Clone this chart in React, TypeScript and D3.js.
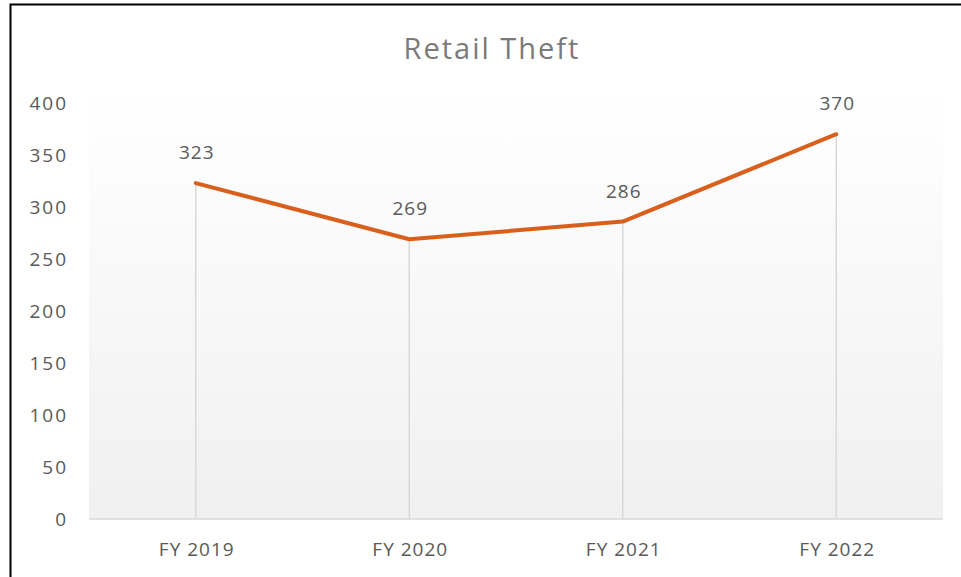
import React, { useRef, useEffect } from "react";
import * as d3 from "d3";

const years = ["FY 2019", "FY 2020", "FY 2021", "FY 2022"];
const thefts = [323, 269, 286, 370];
const yTicks = [0, 50, 100, 150, 200, 250, 300, 350, 400];

export default function App() {
  const ref = useRef<SVGSVGElement>(null);

  useEffect(() => {
    const width = 961;
    const height = 577;
    const svg = d3.select(ref.current);
    svg.selectAll("*").remove();
    svg.attr("width", width).attr("height", height);

    const font = "'Open Sans', 'Noto Sans', sans-serif";
    const textColor = "#595959";

    const left = 89;
    const right = 943;
    const top = 103;
    const bottom = 519;

    const x = d3.scaleBand<string>().domain(years).range([left, right]);
    const y = d3.scaleLinear().domain([0, 400]).range([bottom, top]);
    const cx = (d: string) => x(d)! + x.bandwidth() / 2;

    svg.append("rect").attr("width", width).attr("height", height).attr("fill", "#fff");

    // frame, only top and left edges are in view
    svg
      .append("path")
      .attr("d", `M10.5,${height} V4.5 H${width}`)
      .attr("fill", "none")
      .attr("stroke", "#000")
      .attr("stroke-width", 2);

    // plot area gradient
    const defs = svg.append("defs");
    const grad = defs
      .append("linearGradient")
      .attr("id", "plotGrad")
      .attr("x1", 0)
      .attr("y1", 0)
      .attr("x2", 0)
      .attr("y2", 1);
    grad.append("stop").attr("offset", "0%").attr("stop-color", "#ffffff");
    grad.append("stop").attr("offset", "100%").attr("stop-color", "#f0f0f0");
    svg
      .append("rect")
      .attr("x", left)
      .attr("y", top - 10)
      .attr("width", right - left)
      .attr("height", bottom - top + 10)
      .attr("fill", "url(#plotGrad)");

    // title
    svg
      .append("text")
      .attr("x", 492)
      .attr("y", 59)
      .attr("text-anchor", "middle")
      .attr("font-family", font)
      .attr("font-size", 29)
      .attr("letter-spacing", 2)
      .attr("fill", "#7a7a7a")
      .text("Retail Theft");

    const label = (sel: any) =>
      sel
        .attr("font-family", font)
        .attr("font-size", 19)
        .attr("letter-spacing", 1)
        .attr("fill", textColor);

    // y axis labels
    svg
      .append("g")
      .selectAll("text")
      .data(yTicks)
      .join("text")
      .attr("x", 68)
      .attr("y", (d) => y(d))
      .attr("dy", "0.35em")
      .attr("text-anchor", "end")
      .call(label)
      .attr("letter-spacing", 2)
      .text((d) => d);

    // x axis labels
    svg
      .append("g")
      .selectAll("text")
      .data(years)
      .join("text")
      .attr("x", (d) => cx(d) + 1)
      .attr("y", 556)
      .attr("text-anchor", "middle")
      .call(label)
      .text((d) => d);

    const pts = years.map((yr, i) => ({ yr, v: thefts[i] }));

    // drop lines
    svg
      .append("g")
      .selectAll("line")
      .data(pts)
      .join("line")
      .attr("x1", (d) => cx(d.yr))
      .attr("x2", (d) => cx(d.yr))
      .attr("y1", (d) => y(d.v))
      .attr("y2", bottom)
      .attr("stroke", "#d9d9d9")
      .attr("stroke-width", 1.5);

    // x axis line
    svg
      .append("line")
      .attr("x1", left)
      .attr("x2", right)
      .attr("y1", bottom)
      .attr("y2", bottom)
      .attr("stroke", "#d9d9d9")
      .attr("stroke-width", 1.5);

    // series line
    const line = d3
      .line<{ yr: string; v: number }>()
      .x((d) => cx(d.yr))
      .y((d) => y(d.v));
    svg
      .append("path")
      .datum(pts)
      .attr("d", line)
      .attr("fill", "none")
      .attr("stroke", "#D95F1C")
      .attr("stroke-width", 4)
      .attr("stroke-linejoin", "round")
      .attr("stroke-linecap", "round");

    // data labels
    svg
      .append("g")
      .selectAll("text")
      .data(pts)
      .join("text")
      .attr("x", (d) => cx(d.yr) + 1)
      .attr("y", (d) => y(d.v) - 24)
      .attr("text-anchor", "middle")
      .call(label)
      .text((d) => d.v);
  }, []);

  return (
    <div>
      <style>{`body{margin:0}`}</style>
      <svg ref={ref} style={{ display: "block" }} />
    </div>
  );
}
